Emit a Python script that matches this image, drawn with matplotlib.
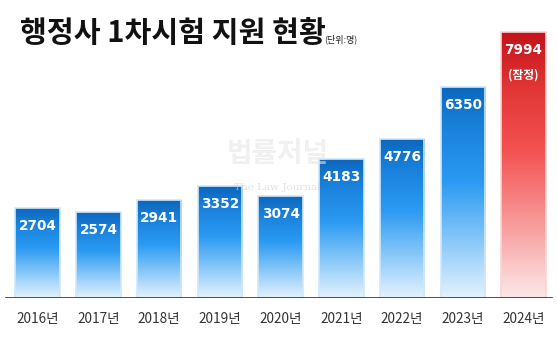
import numpy as np
import matplotlib.pyplot as plt
from matplotlib.colors import LinearSegmentedColormap

plt.rcParams['font.family'] = ['Noto Sans CJK KR', 'DejaVu Sans']

years = ['2016년', '2017년', '2018년', '2019년', '2020년',
         '2021년', '2022년', '2023년', '2024년']
applicants = [2704, 2574, 2941, 3352, 3074, 4183, 4776, 6350, 7994]
provisional = [False] * 8 + [True]

blue = LinearSegmentedColormap.from_list(
    'blue', [(0, '#e4f2fe'), (0.25, '#8fcbf9'), (0.55, '#2a9af2'),
             (0.8, '#1a82dc'), (1, '#0d66bc')])
red = LinearSegmentedColormap.from_list(
    'red', [(0, '#fde8e8'), (0.25, '#f8a2a2'), (0.55, '#f45252'),
            (0.8, '#e03434'), (1, '#c3121a')])

fig = plt.figure(figsize=(5.57, 3.43), dpi=100)
ax = fig.add_axes([0.0, 0.131, 1.0, 0.869])

x = np.arange(len(years))
width = 0.73
bars = ax.bar(x, applicants, width=width, color='none',
              edgecolor='#cfe8fb', linewidth=1.2, zorder=3)

grad = np.linspace(0, 1, 256).reshape(-1, 1)
for b, prov in zip(bars, provisional):
    x0, h = b.get_x(), b.get_height()
    im = ax.imshow(grad, cmap=red if prov else blue, origin='lower',
                   extent=(x0, x0 + b.get_width(), 0, h),
                   aspect='auto', zorder=2)
    im.set_clip_path(b)
    if prov:
        b.set_edgecolor('#fbd4d4')

for xi, v, prov in zip(x, applicants, provisional):
    ax.text(xi, v - 540, f'{v}', ha='center', va='center', color='white',
            fontsize=9.8, fontweight='bold', family='DejaVu Sans', zorder=5)
    if prov:
        ax.text(xi, v - 1290, '(잠정)', ha='center', va='center',
                color='white', fontsize=8.5, fontweight='bold', zorder=5)

# faint watermark
ax.text(3.95, 4330, '법률저널', ha='center', va='center', fontsize=20,
        fontweight='bold', color='#e6e6e6', alpha=0.6, zorder=4)
ax.text(3.95, 3310, 'The Law Journal', ha='center', va='center', fontsize=7.5,
        family='DejaVu Serif', color='#d0d0d0', alpha=0.6, zorder=4)

ax.set_xlim(-0.62, len(years) - 0.45)
ax.set_ylim(0, 8950)
ax.axhline(0, xmin=0.01, xmax=0.99, color='#404040', linewidth=2, zorder=6)

for s in ax.spines.values():
    s.set_visible(False)
ax.set_yticks([])
ax.set_xticks(x)
ax.set_xticklabels(years, fontsize=9.8, color='#333333')
ax.tick_params(axis='x', length=0, pad=10)

fig.text(0.036, 0.878, '행정사 1차시험 지원 현황', fontsize=21,
         fontweight='bold', color='#111111', va='baseline')
fig.text(0.582, 0.878, '(단위:명)', fontsize=6.5, color='#222222',
         va='baseline')

fig.savefig('out.png', dpi=100)
